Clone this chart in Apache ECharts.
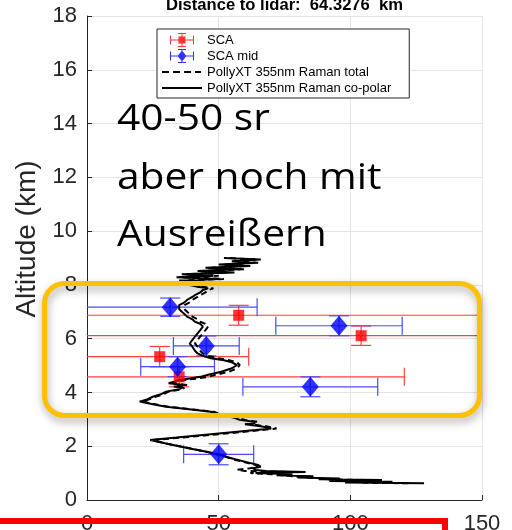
<!DOCTYPE html>
<html><head><meta charset="utf-8">
<script src="https://cdn.jsdelivr.net/npm/echarts@6/dist/echarts.min.js"></script>
<style>html,body{margin:0;padding:0;background:#fff}#c{width:512px;height:530px}</style>
</head><body><div id="c"></div>
<script>
// ---- data ----
const titleText = 'Distance to lidar:  64.3276  km';
const yAxisName = 'Altitude (km)';
const xTicks = [0, 50, 100, 150];
const yTicks = [0, 2, 4, 6, 8, 10, 12, 14, 16, 18];
const noteLines = ['40-50 sr', 'aber noch mit', 'Ausreißern'];

// SCA (red squares)
const scaX    = [57.6, 104.1, 27.6, 35.0];
const scaY    = [6.87, 6.11, 5.33, 4.58];
const scaXErr = [100, 110, 33.8, 85.5];
const scaYErr = [0.37, 0.36, 0.38, 0.37];

// SCA mid (blue diamonds)
const midX    = [31.6, 95.7, 45.3, 34.4, 84.8, 50.0];
const midY    = [7.17, 6.48, 5.73, 4.96, 4.21, 1.70];
const midXErr = [33, 24.0, 12.5, 14.0, 25.6, 13.3];
const midYErr = [0.34, 0.37, 0.37, 0.37, 0.37, 0.39];

// PollyXT profiles (altitude km, x value)
const profAlt = [
  0.62,0.65,0.68,0.71,0.74,0.77,0.80,0.84,0.88,0.92,
  0.96,1.00,1.04,1.08,1.12,1.18,1.24,1.30,1.40,1.50,
  1.60,1.70,1.80,1.90,2.00,2.10,2.23,2.32,2.42,2.52,
  2.60,2.66,2.74,2.82,2.90,2.98,3.06,3.16,3.28,3.38,
  3.47,3.56,3.66,3.75,3.84,3.93,4.03,4.10,4.16,4.22,
  4.28,4.34,4.40,4.46,4.52,4.58,4.66,4.77,4.90,5.02,
  5.12,5.20,5.27,5.36,5.45,5.55,5.70,5.82,5.95,6.08,
  6.20,6.32,6.45,6.55,6.63,6.72,6.82,6.92,7.00,7.10,
  7.25,7.35,7.44,7.55,7.62,7.72,7.81,7.87,7.93,7.98,
  8.04,8.10,8.16,8.22,8.28,8.34,8.40,8.46,8.52,8.58,
  8.64,8.70,8.76,8.82,8.88,8.94,9.00
];
const profCopolar = [
  128,98,116,92,112,88,96,80,86,72,
  78,64,83,68,64,63,66,65,61,57,
  53,50,45,40,35,30,24,34,44,55,
  64,70,66,60,64,58,56,51,47,38,
  30,25,20,23,25,28,30,34,36,33,
  37,31,33,35,39,43,46,51,55,57,
  55,52,47,44,42,41,40,39,40,41,
  42,43,44,43,41,40,38,37,36,35,
  35,37,38,40,41,43,44,46,42,40,
  36,44,37,50,34,48,36,56,42,58,
  45,62,50,64,55,66,52
];
const profTotal = [
  122,104,110,96,106,92,90,84,78,74,
  70,62,76,60,57,62,65,64,60,56,
  53,49,45,40,35,30,25,36,47,58,
  66,72,68,62,65,60,57,52,48,39,
  31,26,21,24,26,29,31,35,37,34,
  38,33,35,37,42,46,49,54,57,58,
  57,54,50,46,44,43,42,41,42,43,
  44,45,46,45,43,42,40,39,38,37,
  37,39,40,42,43,45,46,48,44,42,
  38,46,35,52,36,50,38,54,44,60,
  47,60,52,65,57,64,54
];

// ---- chart ----
const FONT = 'Liberation Sans';
const AX = '#262626';

function errorBars(name, xs, ys, xe, ye, color) {
  return {
    type: 'custom', name: name, z: 2, silent: true, clip: true,
    dimensions: ['x', 'y', 'ex', 'ey'],
    encode: { x: 0, y: 1 },
    data: xs.map((x, i) => [x, ys[i], xe[i], ye[i]]),
    renderItem: function (params, api) {
      const cs = params.coordSys;
      const x = api.value(0), y = api.value(1), ex = api.value(2), ey = api.value(3);
      const c = api.coord([x, y]);
      const l = api.coord([x - ex, y])[0], r = api.coord([x + ex, y])[0];
      const t = api.coord([x, y + ey])[1], b = api.coord([x, y - ey])[1];
      const x0 = cs.x, x1 = cs.x + cs.width;
      const st = { stroke: color, lineWidth: 1.2 };
      const kids = [];
      kids.push({ type: 'line', shape: { x1: Math.max(l, x0), y1: c[1], x2: Math.min(r, x1), y2: c[1] }, style: st });
      if (l >= x0) kids.push({ type: 'line', shape: { x1: l, y1: c[1] - 9, x2: l, y2: c[1] + 9 }, style: st });
      if (r <= x1) kids.push({ type: 'line', shape: { x1: r, y1: c[1] - 9, x2: r, y2: c[1] + 9 }, style: st });
      kids.push({ type: 'line', shape: { x1: c[0], y1: t, x2: c[0], y2: b }, style: st });
      kids.push({ type: 'line', shape: { x1: c[0] - 10, y1: t, x2: c[0] + 10, y2: t }, style: st });
      kids.push({ type: 'line', shape: { x1: c[0] - 10, y1: b, x2: c[0] + 10, y2: b }, style: st });
      return { type: 'group', children: kids };
    }
  };
}

const corners = 'M0 0h0.01v0.01h-0.01z M39.99 13.99h0.01v0.01h-0.01z ';
const barsPath = 'M8 6.5h24v1h-24z M8 2.5h1v9h-1z M31 2.5h1v9h-1z M19.5 0h1v14h-1z M16 0h8v1h-8z M16 13h8v1h-8z ';
const scaIcon = 'path://' + corners + barsPath + 'M16.5 3.5h7v7h-7z';
const midIcon = 'path://' + corners + barsPath + 'M20 1.5l4.5 5.5l-4.5 5.5l-4.5 -5.5z';
const dashIcon = 'path://' + corners + 'M0 6h7v2h-7z M11 6h7v2h-7z M22 6h7v2h-7z M33 6h6v2h-6z';
const solidIcon = 'path://' + corners + 'M0 6h40v2h-40z';

const chart = echarts.init(document.getElementById('c'), null, { renderer: 'canvas' });
const option = {
  animation: false,
  backgroundColor: '#fff',
  title: {
    text: titleText, left: 166, top: -3, padding: 0,
    textStyle: { fontFamily: FONT, fontSize: 16.6, fontWeight: 'bold', color: '#000' }
  },
  grid: { left: 87, right: 30, top: 16, bottom: 30, containLabel: false, outerBoundsMode: 'none' },
  xAxis: {
    type: 'value', min: xTicks[0], max: xTicks[xTicks.length - 1], interval: 50,
    axisLine: { lineStyle: { color: AX, width: 1 } },
    axisTick: { inside: true, length: 5, lineStyle: { color: AX } },
    axisLabel: { margin: 13, fontFamily: FONT, fontSize: 22, color: AX },
    splitLine: { show: true, lineStyle: { color: '#e4e4e4', width: 1 } }
  },
  yAxis: {
    type: 'value', min: yTicks[0], max: yTicks[yTicks.length - 1], interval: 2,
    name: yAxisName, nameLocation: 'middle', nameGap: 40,
    nameTextStyle: { fontFamily: FONT, fontSize: 28, color: AX, padding: [0, 0, 0, 38] },
    axisLine: { show: true, lineStyle: { color: AX, width: 1 } },
    axisTick: { show: true, inside: true, length: 5, lineStyle: { color: AX } },
    axisLabel: { margin: 10, fontFamily: FONT, fontSize: 22, color: AX },
    splitLine: { show: true, lineStyle: { color: '#e4e4e4', width: 1 } }
  },
  legend: {
    orient: 'vertical', left: 157, top: 29, padding: [4, 18, 3, 5],
    itemGap: 2, itemWidth: 40, itemHeight: 14,
    borderColor: AX, borderWidth: 1, backgroundColor: '#fff',
    textStyle: { fontFamily: FONT, fontSize: 13, color: '#000' },
    data: [
      { name: 'SCA', icon: scaIcon },
      { name: 'SCA mid', icon: midIcon },
      { name: 'PollyXT 355nm Raman total', icon: dashIcon },
      { name: 'PollyXT 355nm Raman co-polar', icon: solidIcon }
    ]
  },
  series: [
    errorBars('SCA errors', scaX, scaY, scaXErr, scaYErr, '#ff4040'),
    errorBars('SCA mid errors', midX, midY, midXErr, midYErr, '#4a4aff'),
    {
      type: 'line', name: 'PollyXT 355nm Raman total', z: 3, symbol: 'none', clip: true,
      data: profAlt.map((a, i) => [profTotal[i], a]),
      lineStyle: { color: '#000', width: 2, type: [6, 4] }, itemStyle: { color: '#000' }
    },
    {
      type: 'line', name: 'PollyXT 355nm Raman co-polar', z: 3, symbol: 'none', clip: true,
      data: profAlt.map((a, i) => [profCopolar[i], a]),
      lineStyle: { color: '#000', width: 2 }, itemStyle: { color: '#000' }
    },
    {
      type: 'scatter', name: 'SCA', z: 4, symbol: 'rect', symbolSize: 11,
      data: scaX.map((x, i) => [x, scaY[i]]), itemStyle: { color: '#ff0000' }
    },
    {
      type: 'scatter', name: 'SCA mid', z: 4, symbol: 'diamond', symbolSize: [17, 20],
      data: midX.map((x, i) => [x, midY[i]]), itemStyle: { color: '#0000ff' }
    }
  ],
  graphic: [
    { type: 'rect', z: 100, shape: { x: 44.5, y: 283.5, width: 435, height: 132, r: 20 },
      style: { fill: null, stroke: '#ffc000', lineWidth: 5, shadowBlur: 8, shadowColor: 'rgba(0,0,0,0.35)', shadowOffsetY: 4, shadowOffsetX: 1 } },
    { type: 'rect', z: 100, shape: { x: -10, y: 521, width: 455, height: 40 },
      style: { fill: null, stroke: '#ff0000', lineWidth: 6 } },
    { type: 'text', z: 100, x: 117, y: 119, scaleX: 1.1,
      style: { text: noteLines[0], font: '37px "Open Sans"', fill: '#000', verticalAlign: 'middle' } },
    { type: 'text', z: 100, x: 117, y: 178, scaleX: 1.1,
      style: { text: noteLines[1], font: '37px "Open Sans"', fill: '#000', verticalAlign: 'middle' } },
    { type: 'text', z: 100, x: 117, y: 235, scaleX: 1.1,
      style: { text: noteLines[2], font: '37px "Open Sans"', fill: '#000', verticalAlign: 'middle' } }
  ]
};
chart.setOption(option);
</script></body></html>
